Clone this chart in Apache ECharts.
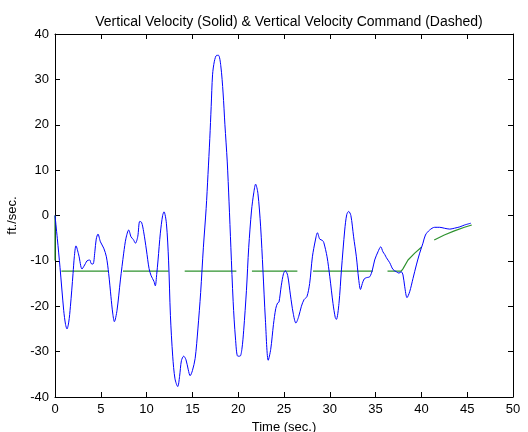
<!DOCTYPE html>
<html>
<head>
<meta charset="utf-8">
<script src="https://cdn.jsdelivr.net/npm/echarts@6/dist/echarts.min.js"></script>
<style>html,body{margin:0;padding:0;background:#fff;}#c{width:528px;height:432px;}</style>
</head>
<body>
<div id="c"></div>
<script>
// Vertical velocity (solid) samples: time (sec.) and value (ft./sec.)
const velT = [0,0.25,0.55,0.95,1.15,1.31,1.5,1.68,1.97,2.11,2.29,2.59,2.95,3.15,3.32,3.49,3.79,3.95,4.15,4.35,4.5,4.69,4.96,5.32,5.61,5.86,6.11,6.3,6.48,6.77,7.14,7.5,7.75,8.05,8.3,8.55,8.78,9.03,9.25,9.45,9.68,9.98,10.27,10.5,10.8,10.95,11.1,11.25,11.5,11.75,11.9,12.16,12.4,12.6,12.85,13.1,13.4,13.6,13.8,14.05,14.3,14.55,14.75,15.0,15.3,15.6,15.9,16.2,16.5,16.7,16.9,17.05,17.2,17.4,17.65,17.85,18.1,18.35,18.55,18.8,19.0,19.2,19.45,19.7,19.95,20.2,20.4,20.6,20.9,21.15,21.45,21.7,21.9,22.15,22.45,22.7,22.97,23.28,23.55,23.85,24.1,24.3,24.45,24.7,24.95,25.15,25.4,25.7,26.0,26.3,26.6,26.9,27.2,27.5,27.8,28.1,28.43,28.65,28.9,29.2,29.35,29.7,30.0,30.35,30.6,30.72,31.0,31.27,31.63,31.85,32.06,32.3,32.6,32.9,33.15,33.35,33.55,33.75,34.0,34.36,34.65,34.9,35.26,35.56,35.8,36.0,36.18,36.54,36.9,37.27,37.55,37.8,37.99,38.18,38.43,38.72,39.08,39.45,39.81,40.17,40.44,40.9,41.45,42.0,42.5,43.1,43.6,44.2,44.7,45.4];
const velV = [0,-5,-11.5,-20.9,-24,-25,-23.5,-20.1,-12.8,-9.1,-6.7,-8.7,-11.8,-11.2,-10.6,-10.0,-9.8,-10.6,-10.7,-8,-5.2,-4.1,-5.8,-7.2,-9.1,-12.8,-17.9,-21.5,-23.4,-20.9,-14.2,-8.3,-5.0,-3.2,-4.7,-5.3,-6.1,-4.7,-1.3,-1.5,-3.6,-7.6,-11.7,-13.3,-14.5,-15.5,-13,-9.8,-3.9,0.0,0.8,-1.7,-10,-22,-31,-36,-37.7,-35.5,-32,-31,-31.8,-34,-35.3,-34.2,-31.5,-25,-17,-7,1.5,9,17,24,31,34,35.3,35.3,33,27,20,12,3,-7,-19,-27,-31,-31,-29.5,-25.3,-16.5,-7,1,5,6.9,4.9,-2.5,-12,-23,-31.9,-29.5,-24,-20.5,-19.3,-19.1,-15.5,-12.8,-12.2,-13.2,-17.5,-21.5,-23.7,-22.3,-20,-18.5,-17.9,-15,-9.1,-5.4,-3.8,-5.2,-5.5,-6,-9.1,-13.5,-19.4,-22.5,-22.9,-19.4,-12.0,-3.2,0.2,0.9,0,-4.7,-9.1,-14,-16.3,-15,-14,-13.7,-13.5,-12.0,-9.8,-8.0,-6.9,-8.0,-8.6,-9.3,-10.4,-11.9,-12.4,-12.7,-12.4,-13.1,-15.7,-18.1,-16.8,-13.9,-10.9,-8.3,-6.1,-4.3,-3.2,-2.6,-2.6,-2.8,-3.0,-2.8,-2.5,-2.1,-1.7];
// Vertical velocity command (dashed): null marks a dash gap
const cmdT = [0,0,null,0.7,5.86,null,7.42,12.41,null,14.16,19.8,null,21.5,26.46,null,28.17,34.7,null,36.3,37.8,38.0,38.54,39.27,40.0,null,41.4,42.5,43.6,44.7,45.5];
const cmdV = [0,-9.9,null,-12.25,-12.25,null,-12.25,-12.25,null,-12.25,-12.25,null,-12.25,-12.25,null,-12.25,-12.25,null,-12.25,-12.25,-11.7,-9.8,-8.3,-7.0,null,-5.4,-4.3,-3.4,-2.6,-2.1];
const xTicks = [0,5,10,15,20,25,30,35,40,45,50];
const yTicks = [-40,-30,-20,-10,0,10,20,30,40];

const velData = velT.map((t,i)=>[t, velV[i]]);
const cmdSegs = [];
let cur = [];
cmdT.forEach((t,i)=>{
  if (t === null) { if (cur.length) cmdSegs.push(cur); cur = []; }
  else cur.push([t, cmdV[i]]);
});
if (cur.length) cmdSegs.push(cur);

const FONT = 'Liberation Sans, Arial, sans-serif';
const series = [];
cmdSegs.forEach(seg=>{
  series.push({type:'line', data:seg, symbol:'none', silent:true, animation:false,
    lineStyle:{color:'#2e922e', width:1.2}, z:2});
});
series.push({type:'line', data:velData, symbol:'none', smooth:0.3, animation:false,
  lineStyle:{color:'#0000ff', width:1}, z:3});

const chart = echarts.init(document.getElementById('c'), null, {renderer:'canvas'});
const axisCommon = {
  min: 0, max: 50, interval: 5, type:'value',
  axisLine:{show:true, onZero:false, lineStyle:{color:'#000', width:1}},
  axisTick:{show:true, inside:true, length:5, lineStyle:{color:'#000'}},
  splitLine:{show:false}
};
chart.setOption({
  animation:false,
  backgroundColor:'#fff',
  title:{text:'Vertical Velocity (Solid) & Vertical Velocity Command (Dashed)', left:284, textAlign:'center', top:10,
    textStyle:{fontFamily:FONT, fontSize:14, fontWeight:'normal', color:'#000'}},
  grid:{left:55, right:15, top:34, bottom:35, containLabel:false, outerBoundsMode:'none'},
  xAxis:[
    Object.assign({}, axisCommon, {position:'bottom', name:'Time (sec.)', nameLocation:'middle', nameGap:23,
      nameTextStyle:{fontFamily:FONT, fontSize:13, color:'#000'},
      axisLabel:{fontFamily:FONT, fontSize:13, color:'#000', margin:6, formatter:v=>xTicks.includes(v)?String(v):''}}),
    Object.assign({}, axisCommon, {position:'top', axisLabel:{show:false}})
  ],
  yAxis:[
    {type:'value', min:-40, max:40, interval:10, position:'left', name:'ft./sec.', nameLocation:'middle', nameGap:30,
      nameTextStyle:{fontFamily:FONT, fontSize:13, color:'#000'},
      axisLine:{show:true, onZero:false, lineStyle:{color:'#000', width:1}},
      axisTick:{show:true, inside:true, length:5, lineStyle:{color:'#000'}},
      axisLabel:{fontFamily:FONT, fontSize:13, color:'#000', margin:6, formatter:v=>yTicks.includes(v)?String(v):''},
      splitLine:{show:false}},
    {type:'value', min:-40, max:40, interval:10, position:'right',
      axisLine:{show:true, onZero:false, lineStyle:{color:'#000', width:1}},
      axisTick:{show:true, inside:true, length:5, lineStyle:{color:'#000'}},
      axisLabel:{show:false}, splitLine:{show:false}}
  ],
  series: series
});
</script>
</body>
</html>
